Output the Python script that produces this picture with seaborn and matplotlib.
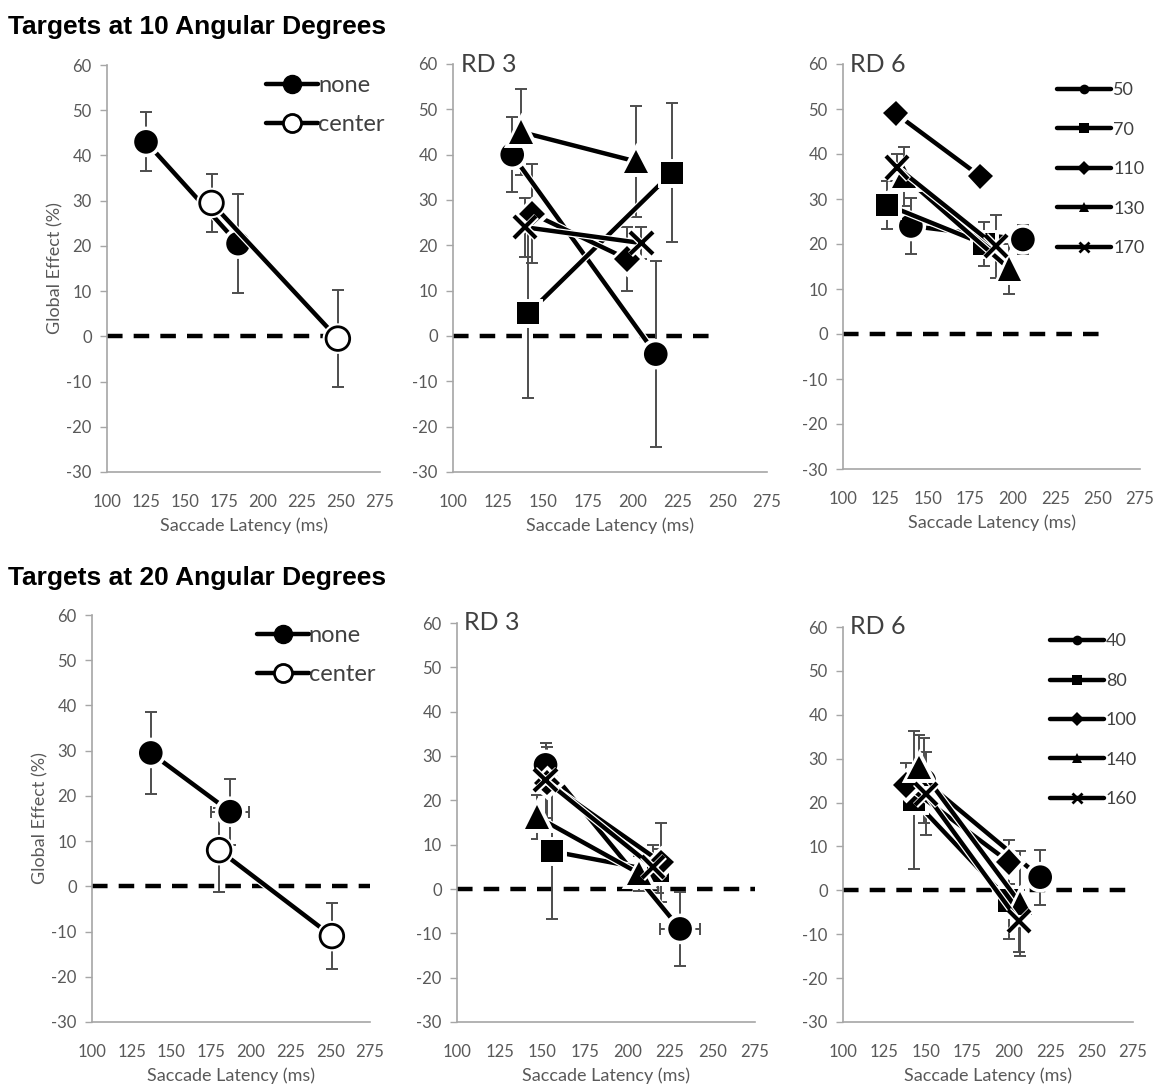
import matplotlib
matplotlib.use("Agg")
import matplotlib.pyplot as plt
import matplotlib.patheffects as pe
from matplotlib.lines import Line2D
import seaborn as sns
import pandas as pd

sns.set_theme(style="white")
plt.rcParams['font.family'] = ['Lato', 'DejaVu Sans']
plt.rcParams['axes.unicode_minus'] = False

# ---------------- data ----------------
# Row titles
row_titles = ["Targets at 10 Angular Degrees", "Targets at 20 Angular Degrees"]
panel_labels = ["", "RD 3", "RD 6"]

# Baseline panels (none / center)
base_names = ["none", "center"]
# 10 deg
b10_none_x = [125, 184]
b10_none_y = [43, 20.5]
b10_none_yerr = [6.5, 11]
b10_none_xerr = [0, 0]
b10_center_x = [167, 248]
b10_center_y = [29.5, -0.5]
b10_center_yerr = [6.5, 10.8]
b10_center_xerr = [0, 0]
# 20 deg
b20_none_x = [137, 187]
b20_none_y = [29.5, 16.5]
b20_none_yerr = [9, 7.3]
b20_none_xerr = [0, 12]
b20_center_x = [180, 251]
b20_center_y = [8, -11]
b20_center_yerr = [9.3, 7.3]
b20_center_xerr = [0, 0]

# Direction series, 10 deg
dir10_labels = ["50", "70", "110", "130", "170"]
# RD 3 (10 deg)
rd3_10_x = [[133, 213], [142, 222], [144, 197], [138, 202], [140, 205]]
rd3_10_y = [[40, -4], [5, 36], [27, 17], [45, 38.5], [24, 20.5]]
rd3_10_yerr = [[8.3, 20.5], [18.6, 15.3], [11, 7], [9.4, 12.3], [6.5, 3.5]]
rd3_10_xerr = [[0, 0], [0, 0], [0, 0], [0, 0], [0, 0]]
# RD 6 (10 deg)
rd6_10_x = [[140, 206], [126, 183], [131, 181], [136, 198], [132, 190]]
rd6_10_y = [[24, 21], [28.7, 20], [49, 35], [35, 14.5], [37, 19.5]]
rd6_10_yerr = [[6.3, 3.3], [5.3, 4.8], [1.5, 0.5], [6.5, 5.5], [3, 7]]
rd6_10_xerr = [[0, 0], [0, 0], [0, 0], [0, 0], [0, 0]]

# Direction series, 20 deg
dir20_labels = ["40", "80", "100", "140", "160"]
# RD 3 (20 deg)
rd3_20_x = [[152, 231], [156, 218], [153, 220], [147, 207], [152, 215]]
rd3_20_y = [[28, -9], [8.5, 4], [24, 6], [16.3, 3.5], [24.5, 5]]
rd3_20_yerr = [[5, 8.3], [15.3, 5], [8, 9], [5, 4], [8.5, 5]]
rd3_20_xerr = [[0, 11.5], [0, 0], [0, 0], [0, 0], [0, 0]]
# RD 6 (20 deg)
rd6_20_x = [[149, 219], [143, 200], [138, 200], [146, 207], [150, 206]]
rd6_20_y = [[25, 3], [20.5, -2.3], [24, 6.5], [28, -3], [22, -7]]
rd6_20_yerr = [[9.6, 6.3], [15.7, 8.7], [5, 5], [7.3, 12], [9.5, 7]]
rd6_20_xerr = [[0, 0], [0, 0], [0, 0], [0, 0], [0, 0]]

zero_line_end = [247, 247, 252, 275, 275, 275]

# ---------------- style ----------------
markers = ["o", "s", "D", "^", "x"]
msizes = [17, 16, 13, 17, 16]
W, H = 1159, 1087
panel_px = [
    (107, 380, 65, 472),
    (453, 767, 64, 472),
    (843, 1140, 64, 469),
    (92, 370, 615, 1022),
    (457, 755, 623, 1022),
    (843, 1133, 627, 1022),
]
GRAY_AX = "#a6a6a6"
GRAY_TXT = "#595959"

fig = plt.figure(figsize=(W / 100, H / 100), dpi=100)
fig.patch.set_facecolor("white")

outline = [pe.Stroke(linewidth=5.0, foreground="white"), pe.Normal()]


def make_ax(i):
    l, r, t, b = panel_px[i]
    ax = fig.add_axes([l / W, 1 - b / H, (r - l) / W, (b - t) / H])
    ax.set_xlim(100, 275)
    ax.set_ylim(-30, 60)
    ax.set_xticks(range(100, 276, 25))
    ax.set_yticks(range(-30, 61, 10))
    for s in ["top", "right"]:
        ax.spines[s].set_visible(False)
    for s in ["left", "bottom"]:
        ax.spines[s].set_color(GRAY_AX)
        ax.spines[s].set_linewidth(1.2)
    ax.tick_params(axis="y", which="both", left=True, length=5, width=1, color=GRAY_AX,
                   labelsize=12, labelcolor=GRAY_TXT, pad=6)
    ax.tick_params(axis="x", which="both", bottom=False, labelsize=12, labelcolor=GRAY_TXT, pad=10)
    ax.set_facecolor("white")
    ax.plot([100, zero_line_end[i]], [0, 0], color="black", lw=3.2,
            ls=(0, (3.5, 2.5)), zorder=1, solid_capstyle="butt", dash_capstyle="butt")
    return ax


def draw_series(ax, x, y, yerr, xerr, marker, ms, label, open_marker=False):
    ax.errorbar(x, y, yerr=yerr, xerr=xerr, fmt="none", ecolor="#4d4d4d",
                elinewidth=1.4, capsize=4.5, capthick=1.4, zorder=2)
    df = pd.DataFrame({"x": x, "y": y})
    n0 = len(ax.lines)
    mew = 3.0 if marker == "x" else (2.0 if open_marker else 0.0)
    sns.lineplot(data=df, x="x", y="y", ax=ax, color="black", marker=marker,
                 markersize=ms, linewidth=3.2, estimator=None, sort=False,
                 markeredgecolor="black", markeredgewidth=mew, legend=False, zorder=3)
    line = ax.lines[n0]
    if open_marker:
        line.set_markerfacecolor("white")
    line.set_path_effects(outline)
    ax.set_xlabel("Saccade Latency (ms)", fontsize=13, color=GRAY_TXT, labelpad=5)
    ax.set_ylabel("")


# ---- baseline panels ----
base_data = [
    [(b10_none_x, b10_none_y, b10_none_yerr, b10_none_xerr),
     (b10_center_x, b10_center_y, b10_center_yerr, b10_center_xerr)],
    [(b20_none_x, b20_none_y, b20_none_yerr, b20_none_xerr),
     (b20_center_x, b20_center_y, b20_center_yerr, b20_center_xerr)],
]
rd_data = [
    [(rd3_10_x, rd3_10_y, rd3_10_yerr, rd3_10_xerr), (rd6_10_x, rd6_10_y, rd6_10_yerr, rd6_10_xerr)],
    [(rd3_20_x, rd3_20_y, rd3_20_yerr, rd3_20_xerr), (rd6_20_x, rd6_20_y, rd6_20_yerr, rd6_20_xerr)],
]
dir_labels = [dir10_labels, dir20_labels]
leg_anchor_y = [0.995, 1.025]

for row in range(2):
    # baseline
    ax = make_ax(row * 3)
    for k, (x, y, ye, xe) in enumerate(base_data[row]):
        draw_series(ax, x, y, ye, xe, "o", 17, base_names[k], open_marker=(k == 1))
    ax.set_ylabel("Global Effect (%)", fontsize=13, color=GRAY_TXT, labelpad=2)
    handles = [
        Line2D([], [], color="black", lw=3.2, marker="o", markersize=13,
               markerfacecolor="black", markeredgecolor="black"),
        Line2D([], [], color="black", lw=3.2, marker="o", markersize=13,
               markerfacecolor="white", markeredgecolor="black", markeredgewidth=2),
    ]
    leg = ax.legend(handles, base_names, loc="upper right", bbox_to_anchor=(1.07, 1.01),
                    frameon=False, fontsize=17, handlelength=2.2, handletextpad=0.0,
                    labelspacing=0.75, borderaxespad=0.2)
    for t in leg.get_texts():
        t.set_color("#404040")

    # RD panels
    for j in range(2):
        ax = make_ax(row * 3 + 1 + j)
        xs, ys, yes, xes = rd_data[row][j]
        for k in range(5):
            draw_series(ax, xs[k], ys[k], yes[k], xes[k], markers[k], msizes[k],
                        dir_labels[row][k])
        ax.text(0.025, 1.0, panel_labels[1 + j], transform=ax.transAxes, fontsize=18,
                color="#404040", ha="left", va="center")
        if j == 1:
            handles = [Line2D([], [], color="black", lw=3.2, marker=m,
                              markersize=7,
                              markeredgewidth=(2 if m == "x" else 0),
                              markeredgecolor="black", markerfacecolor="black")
                       for m in markers]
            leg = ax.legend(handles, dir_labels[row], loc="upper right",
                            bbox_to_anchor=(1.07, leg_anchor_y[row]), frameon=False, fontsize=13,
                            handlelength=3.0, handletextpad=0.1, labelspacing=1.3)
            for t in leg.get_texts():
                t.set_color("#404040")

    y_title = 27 if row == 0 else 578
    fig.text(8 / W, 1 - y_title / H, row_titles[row], fontsize=19, fontweight="bold",
             family=["Liberation Sans", "DejaVu Sans"], ha="left", va="center", color="black")

fig.savefig("out.png", dpi=100, facecolor="white")
